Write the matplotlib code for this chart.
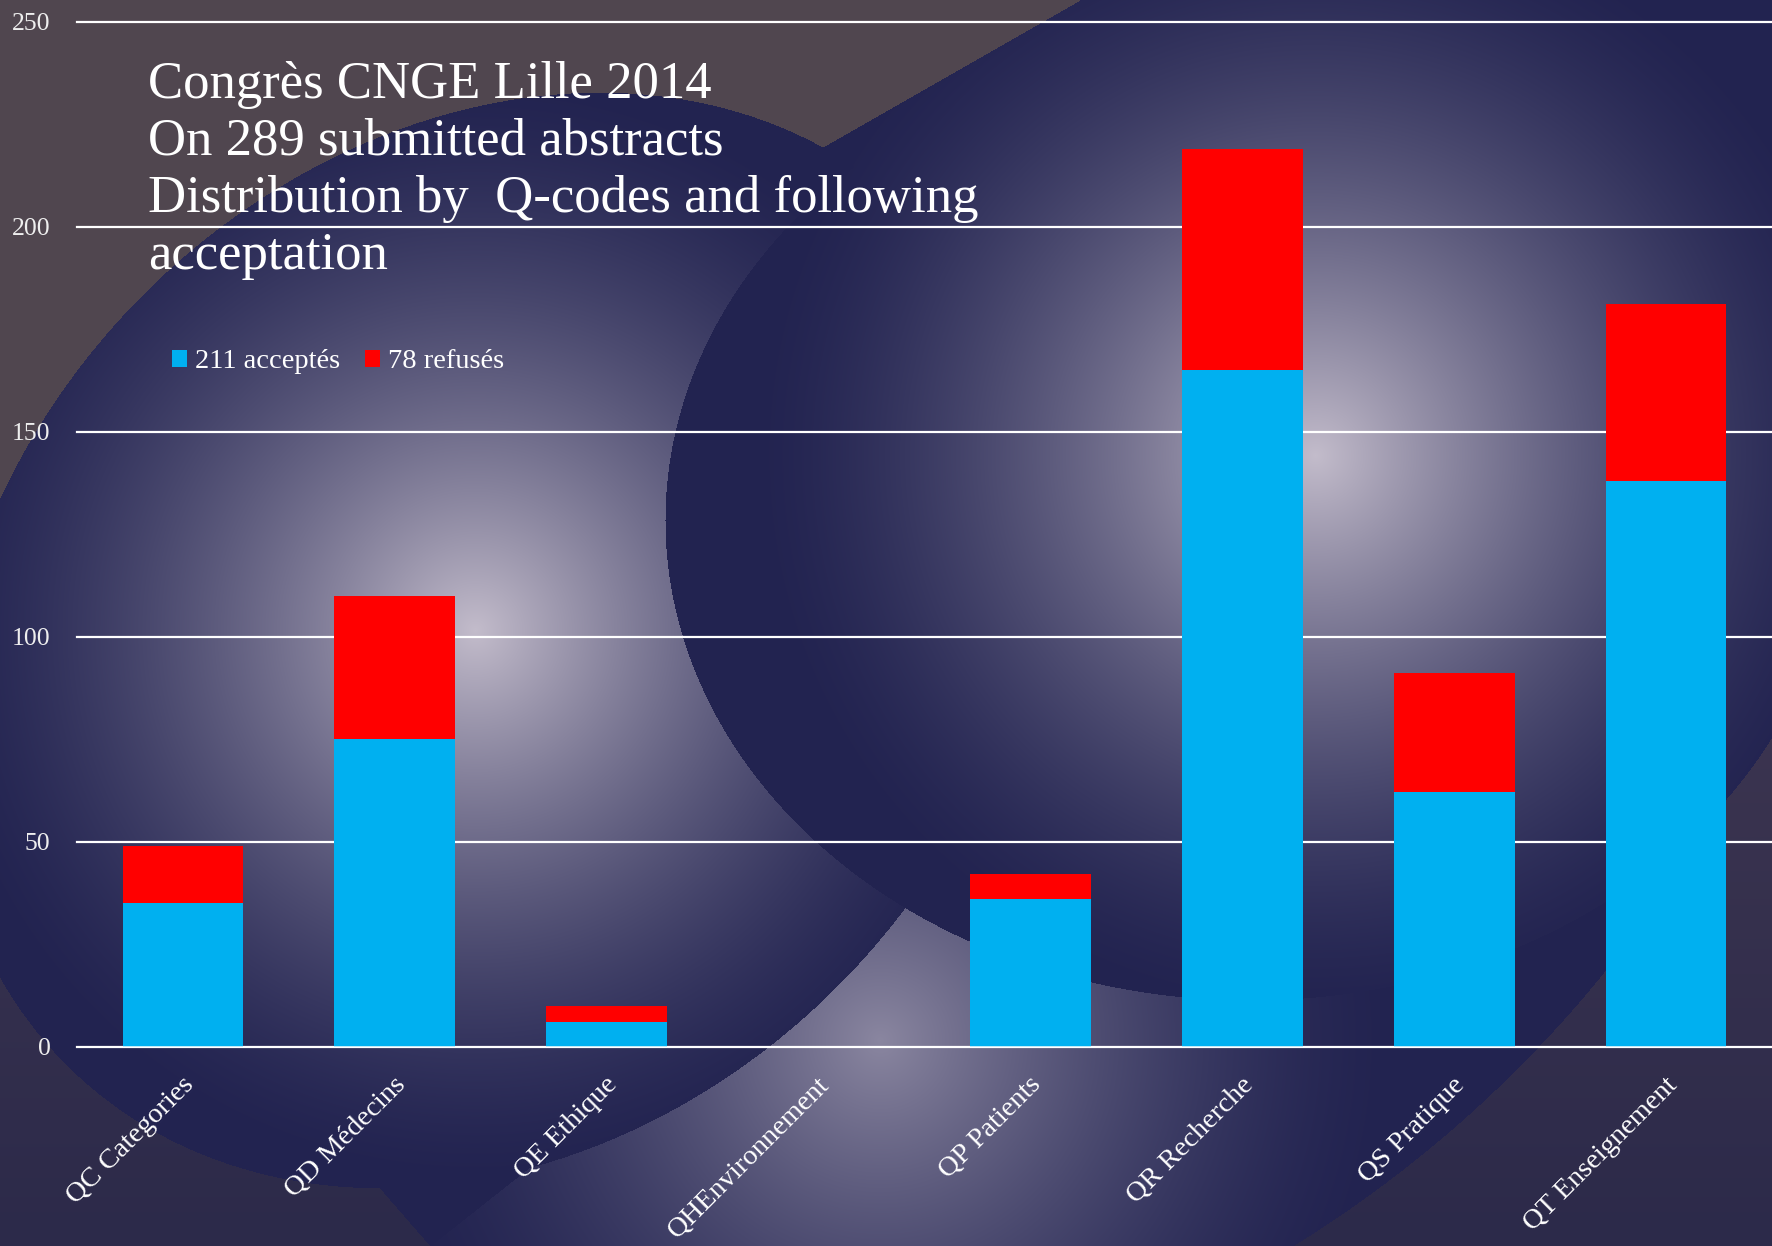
import numpy as np
import matplotlib
matplotlib.use("Agg")
import matplotlib.pyplot as plt
from matplotlib.transforms import ScaledTranslation

# data
categories = ["QC Categories", "QD Médecins", "QE Ethique", "QHEnvironnement",
              "QP Patients", "QR Recherche", "QS Pratique", "QT Enseignement"]
acceptes = [35, 75, 6, 0, 36, 165, 62, 138]
refuses = [14, 35, 4, 0, 6, 54, 29, 43]
y_ticks = [0, 50, 100, 150, 200, 250]
legend_labels = ["211 acceptés", "78 refusés"]
title_lines = ["Congrès CNGE Lille 2014",
               "On 289 submitted abstracts",
               "Distribution by  Q-codes and following",
               "acceptation"]

W, H = 1772, 1246


def rgb(h):
    return np.array([int(h[i:i + 2], 16) for i in (1, 3, 5)], dtype=np.float32) / 255


NAVY = rgb("#222350")


def glow(xx, yy, cx, cy, radius, light):
    t = np.clip(np.hypot(xx - cx, yy - cy) / radius, 0, 1)
    w = ((1 - t) ** 1.6)[..., None]
    return NAVY * (1 - w) + rgb(light) * w


def background():
    # theme-like backdrop: circles with radial glows (pixel coords, y down)
    yy, xx = np.mgrid[0:H, 0:W].astype(np.float32)

    dx, dy = xx - 490, yy - 640
    u = (dx - dy) / np.sqrt(2)
    v = (dx + dy) / np.sqrt(2)
    in_l = (u / 600) ** 2 + (v / 490) ** 2 <= 1
    in_r = ((xx - 1250) / 585) ** 2 + ((yy - 520) / 480) ** 2 <= 1
    out = ~in_l & ~in_r

    line_y = 163 - (xx - 795) * 163 / 285
    brown = out & (yy < 700) & ((xx < 795) | (yy < line_y))
    corner_l = out & (yy >= 700) & (xx < 390 + (yy - 1200) * 40 / 46)
    in_d = np.hypot(xx - 644, yy - 195) <= 1235
    corner_r = out & ~in_d & ~brown
    s = (xx - 430) * (-328) - (yy - 1246) * 415
    g_zone = out & in_d & (s < 0) & ~brown & (yy > 600)

    t = np.clip((yy - 700) / 546, 0, 1)[..., None]
    corner_col = rgb("#3c3550") * (1 - t) + rgb("#2c2a4a") * t

    img = glow(xx, yy, 1315, 455, 570, "#c3bccb")
    img[g_zone] = glow(xx, yy, 880, 1040, 520, "#8a86a0")[g_zone]
    img[corner_l] = corner_col[corner_l]
    img[corner_r] = corner_col[corner_r]
    img[brown] = rgb("#50464f")
    img[in_l] = glow(xx, yy, 475, 630, 560, "#c3bccb")[in_l]
    img[in_r] = glow(xx, yy, 1315, 455, 570, "#c3bccb")[in_r]
    return img


plt.rcParams["font.family"] = ["Liberation Serif", "DejaVu Serif"]

fig = plt.figure(figsize=(W / 100, H / 100), dpi=100)
bg = fig.add_axes([0, 0, 1, 1])
bg.imshow(background(), aspect="auto", extent=(0, W, H, 0), interpolation="bilinear")
bg.axis("off")

ax = fig.add_axes([77 / W, 1 - 1046.5 / H, 1 - 77 / W, 1025 / H])
ax.patch.set_alpha(0)

x = np.arange(len(categories))
ax.bar(x, acceptes, width=0.57, color="#00b0f0", label=legend_labels[0], zorder=3)
ax.bar(x, refuses, bottom=acceptes, width=0.57, color="#ff0000",
       label=legend_labels[1], zorder=3)

ax.set_xlim(-0.5, len(categories) - 0.5)
ax.set_ylim(0, 250)
ax.set_yticks(y_ticks)
ax.grid(axis="y", color="white", linewidth=1.6)
ax.set_axisbelow(True)
for line in ax.get_ygridlines():
    line.set_clip_on(False)
ax.axhline(0, color="white", linewidth=1.8, zorder=4)

for sp in ax.spines.values():
    sp.set_visible(False)
ax.tick_params(axis="y", length=0, pad=19, labelsize=18.5, labelcolor="#eeeeee")
ax.tick_params(axis="x", length=0, pad=24, labelsize=20.5, labelcolor="white")
ax.set_xticks(x)
ax.set_xticklabels(categories, rotation=45, ha="right", va="center",
                   rotation_mode="anchor")
# nudge labels a little right like the original
shift = ScaledTranslation(0.07, -0.015, fig.dpi_scale_trans)
for lab in ax.get_xticklabels():
    lab.set_transform(lab.get_transform() + shift)

ax.legend(loc="center left", bbox_to_anchor=(0.056, 0.668), ncol=2, frameon=False,
          fontsize=20.5, labelcolor="white", handlelength=0.52, handleheight=0.52,
          handletextpad=0.28, columnspacing=0.9, borderpad=0, borderaxespad=0)

fig.text(148 / W, 1 - 61 / H, "\n".join(title_lines), fontsize=38, color="white",
         ha="left", va="top", linespacing=1.24)

fig.savefig("out.png", dpi=100)
